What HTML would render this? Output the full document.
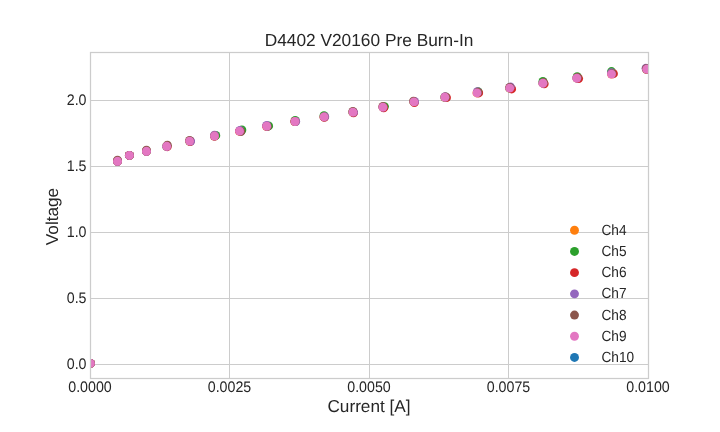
<!DOCTYPE html>
<html><head><meta charset="utf-8"><style>
html,body{margin:0;padding:0;background:#fff;}
svg{display:block;will-change:transform;font-family:"Liberation Sans",sans-serif;text-rendering:geometricPrecision;}
text{fill:#262626;}
</style></head><body>
<svg width="720" height="432" viewBox="0 0 720 432">
<line x1="90" x2="648" y1="364.5" y2="364.5" stroke="#cccccc" stroke-width="1"/>
<line x1="90" x2="648" y1="298.5" y2="298.5" stroke="#cccccc" stroke-width="1"/>
<line x1="90" x2="648" y1="232.5" y2="232.5" stroke="#cccccc" stroke-width="1"/>
<line x1="90" x2="648" y1="166.5" y2="166.5" stroke="#cccccc" stroke-width="1"/>
<line x1="90" x2="648" y1="100.5" y2="100.5" stroke="#cccccc" stroke-width="1"/>
<line x1="229.5" x2="229.5" y1="52" y2="378" stroke="#cccccc" stroke-width="1"/>
<line x1="369.5" x2="369.5" y1="52" y2="378" stroke="#cccccc" stroke-width="1"/>
<line x1="508.5" x2="508.5" y1="52" y2="378" stroke="#cccccc" stroke-width="1"/>
<clipPath id="ax"><rect x="90" y="52" width="558" height="326"/></clipPath>
<g clip-path="url(#ax)">
<circle cx="90.40" cy="363.40" r="4.45" fill="#ff7f0e"/>
<circle cx="117.50" cy="161.30" r="4.45" fill="#ff7f0e"/>
<circle cx="129.40" cy="155.45" r="4.45" fill="#ff7f0e"/>
<circle cx="146.47" cy="151.30" r="4.45" fill="#ff7f0e"/>
<circle cx="166.70" cy="146.30" r="4.45" fill="#ff7f0e"/>
<circle cx="189.60" cy="141.10" r="4.45" fill="#ff7f0e"/>
<circle cx="214.50" cy="136.05" r="4.45" fill="#ff7f0e"/>
<circle cx="239.55" cy="131.15" r="4.45" fill="#ff7f0e"/>
<circle cx="266.70" cy="126.27" r="4.45" fill="#ff7f0e"/>
<circle cx="294.95" cy="121.50" r="4.45" fill="#ff7f0e"/>
<circle cx="324.00" cy="116.95" r="4.45" fill="#ff7f0e"/>
<circle cx="352.86" cy="112.15" r="4.45" fill="#ff7f0e"/>
<circle cx="382.90" cy="107.10" r="4.45" fill="#ff7f0e"/>
<circle cx="413.90" cy="101.90" r="4.45" fill="#ff7f0e"/>
<circle cx="444.80" cy="97.25" r="4.45" fill="#ff7f0e"/>
<circle cx="477.00" cy="92.95" r="4.45" fill="#ff7f0e"/>
<circle cx="509.70" cy="88.15" r="4.45" fill="#ff7f0e"/>
<circle cx="542.90" cy="83.20" r="4.45" fill="#ff7f0e"/>
<circle cx="576.80" cy="78.10" r="4.45" fill="#ff7f0e"/>
<circle cx="611.50" cy="74.10" r="4.45" fill="#ff7f0e"/>
<circle cx="646.70" cy="69.30" r="4.45" fill="#ff7f0e"/>
<circle cx="90.40" cy="363.40" r="4.45" fill="#2ca02c"/>
<circle cx="117.50" cy="161.30" r="4.45" fill="#2ca02c"/>
<circle cx="129.40" cy="155.45" r="4.45" fill="#2ca02c"/>
<circle cx="146.47" cy="151.30" r="4.45" fill="#2ca02c"/>
<circle cx="166.70" cy="146.30" r="4.45" fill="#2ca02c"/>
<circle cx="189.60" cy="141.10" r="4.45" fill="#2ca02c"/>
<circle cx="215.80" cy="135.40" r="4.45" fill="#2ca02c"/>
<circle cx="241.89" cy="129.98" r="4.45" fill="#2ca02c"/>
<circle cx="268.65" cy="125.88" r="4.45" fill="#2ca02c"/>
<circle cx="295.21" cy="120.46" r="4.45" fill="#2ca02c"/>
<circle cx="324.00" cy="115.65" r="4.45" fill="#2ca02c"/>
<circle cx="352.86" cy="112.15" r="4.45" fill="#2ca02c"/>
<circle cx="384.46" cy="106.58" r="4.45" fill="#2ca02c"/>
<circle cx="413.90" cy="101.90" r="4.45" fill="#2ca02c"/>
<circle cx="444.80" cy="97.25" r="4.45" fill="#2ca02c"/>
<circle cx="478.04" cy="91.65" r="4.45" fill="#2ca02c"/>
<circle cx="509.70" cy="88.15" r="4.45" fill="#2ca02c"/>
<circle cx="542.90" cy="81.51" r="4.45" fill="#2ca02c"/>
<circle cx="577.19" cy="76.67" r="4.45" fill="#2ca02c"/>
<circle cx="611.50" cy="71.56" r="4.45" fill="#2ca02c"/>
<circle cx="646.70" cy="69.30" r="4.45" fill="#2ca02c"/>
<circle cx="90.40" cy="363.40" r="4.45" fill="#d62728"/>
<circle cx="117.50" cy="161.30" r="4.45" fill="#d62728"/>
<circle cx="129.40" cy="155.45" r="4.45" fill="#d62728"/>
<circle cx="146.47" cy="151.30" r="4.45" fill="#d62728"/>
<circle cx="167.22" cy="146.69" r="4.45" fill="#d62728"/>
<circle cx="190.25" cy="141.62" r="4.45" fill="#d62728"/>
<circle cx="214.50" cy="136.05" r="4.45" fill="#d62728"/>
<circle cx="239.55" cy="131.15" r="4.45" fill="#d62728"/>
<circle cx="266.70" cy="126.27" r="4.45" fill="#d62728"/>
<circle cx="294.95" cy="121.50" r="4.45" fill="#d62728"/>
<circle cx="324.39" cy="117.34" r="4.45" fill="#d62728"/>
<circle cx="353.51" cy="112.80" r="4.45" fill="#d62728"/>
<circle cx="383.68" cy="107.75" r="4.45" fill="#d62728"/>
<circle cx="414.42" cy="102.55" r="4.45" fill="#d62728"/>
<circle cx="446.49" cy="97.64" r="4.45" fill="#d62728"/>
<circle cx="478.69" cy="92.95" r="4.45" fill="#d62728"/>
<circle cx="511.65" cy="88.93" r="4.45" fill="#d62728"/>
<circle cx="544.20" cy="83.85" r="4.45" fill="#d62728"/>
<circle cx="578.62" cy="78.62" r="4.45" fill="#d62728"/>
<circle cx="613.45" cy="73.71" r="4.45" fill="#d62728"/>
<circle cx="646.70" cy="69.30" r="4.45" fill="#d62728"/>
<circle cx="90.40" cy="363.40" r="4.45" fill="#9467bd"/>
<circle cx="117.50" cy="161.30" r="4.45" fill="#9467bd"/>
<circle cx="129.40" cy="155.45" r="4.45" fill="#9467bd"/>
<circle cx="146.47" cy="151.30" r="4.45" fill="#9467bd"/>
<circle cx="166.70" cy="146.30" r="4.45" fill="#9467bd"/>
<circle cx="190.64" cy="141.10" r="4.45" fill="#9467bd"/>
<circle cx="214.50" cy="135.27" r="4.45" fill="#9467bd"/>
<circle cx="239.94" cy="130.37" r="4.45" fill="#9467bd"/>
<circle cx="266.70" cy="125.36" r="4.45" fill="#9467bd"/>
<circle cx="295.73" cy="121.50" r="4.45" fill="#9467bd"/>
<circle cx="324.78" cy="116.69" r="4.45" fill="#9467bd"/>
<circle cx="353.51" cy="112.15" r="4.45" fill="#9467bd"/>
<circle cx="382.90" cy="107.10" r="4.45" fill="#9467bd"/>
<circle cx="414.55" cy="101.51" r="4.45" fill="#9467bd"/>
<circle cx="445.19" cy="96.60" r="4.45" fill="#9467bd"/>
<circle cx="477.39" cy="91.65" r="4.45" fill="#9467bd"/>
<circle cx="510.35" cy="86.85" r="4.45" fill="#9467bd"/>
<circle cx="542.90" cy="83.20" r="4.45" fill="#9467bd"/>
<circle cx="576.80" cy="78.10" r="4.45" fill="#9467bd"/>
<circle cx="611.50" cy="72.80" r="4.45" fill="#9467bd"/>
<circle cx="646.05" cy="68.26" r="4.45" fill="#9467bd"/>
<circle cx="90.40" cy="363.40" r="4.45" fill="#8c564b"/>
<circle cx="117.50" cy="160.26" r="4.45" fill="#8c564b"/>
<circle cx="129.40" cy="155.45" r="4.45" fill="#8c564b"/>
<circle cx="146.47" cy="150.13" r="4.45" fill="#8c564b"/>
<circle cx="167.35" cy="145.26" r="4.45" fill="#8c564b"/>
<circle cx="189.60" cy="140.45" r="4.45" fill="#8c564b"/>
<circle cx="214.50" cy="136.05" r="4.45" fill="#8c564b"/>
<circle cx="240.85" cy="131.54" r="4.45" fill="#8c564b"/>
<circle cx="267.35" cy="126.66" r="4.45" fill="#8c564b"/>
<circle cx="294.95" cy="121.50" r="4.45" fill="#8c564b"/>
<circle cx="324.00" cy="116.95" r="4.45" fill="#8c564b"/>
<circle cx="352.86" cy="111.50" r="4.45" fill="#8c564b"/>
<circle cx="382.90" cy="106.45" r="4.45" fill="#8c564b"/>
<circle cx="413.51" cy="101.12" r="4.45" fill="#8c564b"/>
<circle cx="445.58" cy="96.99" r="4.45" fill="#8c564b"/>
<circle cx="477.91" cy="92.30" r="4.45" fill="#8c564b"/>
<circle cx="509.70" cy="87.37" r="4.45" fill="#8c564b"/>
<circle cx="543.55" cy="82.55" r="4.45" fill="#8c564b"/>
<circle cx="577.45" cy="77.45" r="4.45" fill="#8c564b"/>
<circle cx="612.02" cy="73.58" r="4.45" fill="#8c564b"/>
<circle cx="646.31" cy="68.65" r="4.45" fill="#8c564b"/>
<circle cx="90.40" cy="363.40" r="4.45" fill="#e377c2"/>
<circle cx="117.50" cy="161.30" r="4.45" fill="#e377c2"/>
<circle cx="129.40" cy="155.45" r="4.45" fill="#e377c2"/>
<circle cx="146.47" cy="151.30" r="4.45" fill="#e377c2"/>
<circle cx="166.70" cy="146.30" r="4.45" fill="#e377c2"/>
<circle cx="189.60" cy="141.10" r="4.45" fill="#e377c2"/>
<circle cx="214.50" cy="136.05" r="4.45" fill="#e377c2"/>
<circle cx="239.55" cy="131.15" r="4.45" fill="#e377c2"/>
<circle cx="266.70" cy="126.27" r="4.45" fill="#e377c2"/>
<circle cx="294.95" cy="121.50" r="4.45" fill="#e377c2"/>
<circle cx="324.00" cy="116.95" r="4.45" fill="#e377c2"/>
<circle cx="352.86" cy="112.15" r="4.45" fill="#e377c2"/>
<circle cx="382.90" cy="107.10" r="4.45" fill="#e377c2"/>
<circle cx="413.90" cy="101.90" r="4.45" fill="#e377c2"/>
<circle cx="444.80" cy="97.25" r="4.45" fill="#e377c2"/>
<circle cx="477.00" cy="92.95" r="4.45" fill="#e377c2"/>
<circle cx="509.70" cy="88.15" r="4.45" fill="#e377c2"/>
<circle cx="542.90" cy="83.20" r="4.45" fill="#e377c2"/>
<circle cx="576.80" cy="78.10" r="4.45" fill="#e377c2"/>
<circle cx="611.50" cy="74.10" r="4.45" fill="#e377c2"/>
<circle cx="646.70" cy="69.30" r="4.45" fill="#e377c2"/>
</g>
<rect x="90.5" y="52.5" width="558" height="326" fill="none" stroke="#cccccc" stroke-width="1.25"/>
<text transform="translate(86.5,368.8) scale(0.93,1.0)" font-size="15.3" text-anchor="end">0.0</text>
<text transform="translate(86.5,302.8) scale(0.93,1.0)" font-size="15.3" text-anchor="end">0.5</text>
<text transform="translate(86.5,236.8) scale(0.93,1.0)" font-size="15.3" text-anchor="end">1.0</text>
<text transform="translate(86.5,170.8) scale(0.93,1.0)" font-size="15.3" text-anchor="end">1.5</text>
<text transform="translate(86.5,104.8) scale(0.93,1.0)" font-size="15.3" text-anchor="end">2.0</text>
<text transform="translate(90,391.8) scale(0.93,1.0)" font-size="15.3" text-anchor="middle">0.0000</text>
<text transform="translate(229.5,391.8) scale(0.93,1.0)" font-size="15.3" text-anchor="middle">0.0025</text>
<text transform="translate(369,391.8) scale(0.93,1.0)" font-size="15.3" text-anchor="middle">0.0050</text>
<text transform="translate(508.5,391.8) scale(0.93,1.0)" font-size="15.3" text-anchor="middle">0.0075</text>
<text transform="translate(648,391.8) scale(0.93,1.0)" font-size="15.3" text-anchor="middle">0.0100</text>
<text transform="translate(369,45.8) scale(0.995,1.0)" font-size="17.4" text-anchor="middle">D4402 V20160 Pre Burn-In</text>
<text transform="translate(369,411.9)" font-size="17.2" text-anchor="middle">Current [A]</text>
<text transform="translate(57.8,216.5) rotate(-90)" font-size="17.2" text-anchor="middle">Voltage</text>
<circle cx="574.5" cy="230.25" r="4.45" fill="#ff7f0e"/>
<text transform="translate(601.5,234.75) scale(0.93,1.0)" font-size="14.7">Ch4</text>
<circle cx="574.5" cy="251.45" r="4.45" fill="#2ca02c"/>
<text transform="translate(601.5,255.95) scale(0.93,1.0)" font-size="14.7">Ch5</text>
<circle cx="574.5" cy="272.65" r="4.45" fill="#d62728"/>
<text transform="translate(601.5,277.15) scale(0.93,1.0)" font-size="14.7">Ch6</text>
<circle cx="574.5" cy="293.85" r="4.45" fill="#9467bd"/>
<text transform="translate(601.5,298.35) scale(0.93,1.0)" font-size="14.7">Ch7</text>
<circle cx="574.5" cy="315.05" r="4.45" fill="#8c564b"/>
<text transform="translate(601.5,319.55) scale(0.93,1.0)" font-size="14.7">Ch8</text>
<circle cx="574.5" cy="336.25" r="4.45" fill="#e377c2"/>
<text transform="translate(601.5,340.75) scale(0.93,1.0)" font-size="14.7">Ch9</text>
<circle cx="574.5" cy="357.45" r="4.45" fill="#1f77b4"/>
<text transform="translate(601.5,361.95) scale(0.93,1.0)" font-size="14.7">Ch10</text>
</svg></body></html>
